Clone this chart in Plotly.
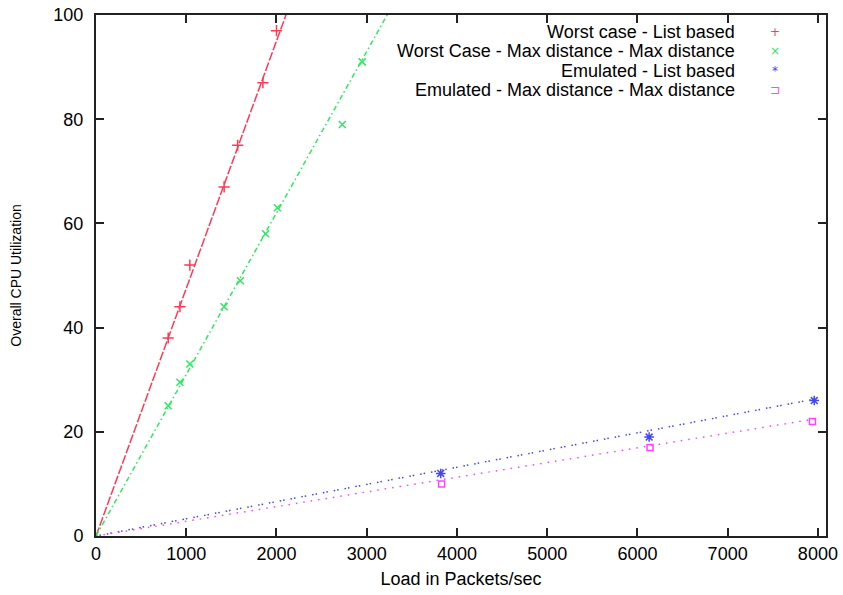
import plotly.graph_objects as go

# ---------------- data ----------------
series_names = [
    "Worst case - List based",
    "Worst Case - Max distance - Max distance",
    "Emulated - List based",
    "Emulated - Max distance - Max distance",
]
wc_list_x = [800, 930, 1040, 1420, 1570, 1850, 2000]
wc_list_y = [38, 44, 52, 67, 75, 87, 97]
wc_maxd_x = [800, 930, 1040, 1420, 1600, 1880, 2010, 2730, 2950]
wc_maxd_y = [25, 29.5, 33, 44, 49, 58, 63, 79, 91]
em_list_x = [3820, 6130, 7960]
em_list_y = [12, 19, 26]
em_maxd_x = [3830, 6140, 7940]
em_maxd_y = [10, 17, 22]
# fitted-line slopes (utilization per packet/sec), lines pass through origin
fit_slopes = [0.0475, 0.031, 0.0033, 0.00282]
fit_x_end = [2200, 3400, 8000, 8000]

x_ticks = [0, 1000, 2000, 3000, 4000, 5000, 6000, 7000, 8000]
y_ticks = [0, 20, 40, 60, 80, 100]

# ---------------- styles ----------------
colors = ["#ff3a55", "#2ee860", "#4646f5", "#ff44ff"]
dashes = ["9px,2px", "5px,3px,1.5px,3px", "1.5px,2px,1.5px,6px", "1.5px,6px"]
symbols = ["cross-thin", "x-thin", "asterisk-open", "square-open"]
sizes = [8, 7, 8, 6]
legend_glyphs = ["+", "×", "*", "⊐"]
FONT = "Liberation Sans, Arial, sans-serif"

fig = go.Figure()
pts = [(wc_list_x, wc_list_y), (wc_maxd_x, wc_maxd_y),
       (em_list_x, em_list_y), (em_maxd_x, em_maxd_y)]

for i, (xs, ys) in enumerate(pts):
    xe = fit_x_end[i]
    fig.add_trace(go.Scatter(
        x=[0, xe], y=[0, fit_slopes[i] * xe], mode="lines",
        line=dict(color=colors[i], width=1.5, dash=dashes[i]),
        showlegend=False, hoverinfo="skip"))
    fig.add_trace(go.Scatter(
        x=xs, y=ys, mode="markers", name=series_names[i],
        marker=dict(symbol=symbols[i], size=sizes[i], color=colors[i],
                    line=dict(color=colors[i], width=1.5)),
        showlegend=False, cliponaxis=False))

# legend built from annotations (gnuplot style: text right, key symbol after)
annots = []
row_step = 0.0374
row_y = [0.9675 - k * row_step for k in range(4)]
for i, name in enumerate(series_names):
    annots.append(dict(xref="paper", yref="paper", x=0.878, y=row_y[i],
                       text=name, showarrow=False, xanchor="right", yanchor="middle",
                       font=dict(family=FONT, size=18, color="#000")))
    annots.append(dict(xref="paper", yref="paper", x=0.93, y=row_y[i],
                       text=legend_glyphs[i], showarrow=False, xanchor="center", yanchor="middle",
                       font=dict(family="DejaVu Sans, sans-serif", size=12, color=colors[i])))

axis_common = dict(
    showline=True, linecolor="#222", linewidth=2, mirror="ticks",
    ticks="inside", ticklen=8, tickwidth=1.5, tickcolor="#222",
    showgrid=False, zeroline=False, automargin=False,
    ticklabeloverflow="allow",
    tickfont=dict(family=FONT, size=18, color="#000"),
)

fig.update_layout(
    width=843, height=595,
    margin=dict(l=96, r=17, t=15, b=59),
    paper_bgcolor="white", plot_bgcolor="white",
    annotations=annots,
    xaxis=dict(range=[0, 8090], tickvals=x_ticks, ticktext=[str(v) for v in x_ticks],
               title=dict(text="Load in Packets/sec", standoff=10,
                          font=dict(family=FONT, size=18, color="#000")),
               **axis_common),
    yaxis=dict(range=[0, 100], tickvals=y_ticks, ticktext=[str(v) for v in y_ticks],
               ticklabelstandoff=7,
               title=dict(text="Overall CPU Utilization", standoff=28,
                          font=dict(family=FONT, size=14, color="#000")),
               **axis_common),
)

# remove the browser's default page margin so the figure fills the window exactly
fig.write_html("out.html",
               config={"displayModeBar": False},
               post_script="document.body.style.margin='0';document.body.style.overflow='hidden';")
